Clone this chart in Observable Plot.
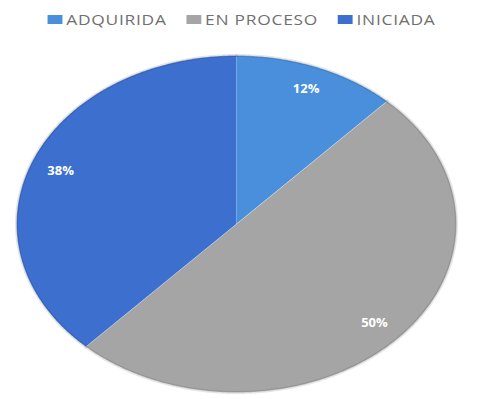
<!DOCTYPE html>
<html>
<head>
<meta charset="utf-8">
<script src="https://cdn.jsdelivr.net/npm/d3@7"></script>
<script src="https://cdn.jsdelivr.net/npm/@observablehq/plot@0.6"></script>
<style>
  html, body { margin: 0; padding: 0; background: #fff; }
  #legend { height: 38px; display: flex; justify-content: center; align-items: center; gap: 16px;
            font-family: "Open Sans", sans-serif; font-size: 14px; color: #707070; letter-spacing: 0.6px;
            padding-right: 11px; box-sizing: border-box; width: 494px;
            transform: scaleX(1.24); transform-origin: 241px 50%; }
  .item { display: flex; align-items: center; }
  .sw { width: 12px; height: 9px; margin-right: 3px; display: inline-block; }
  #chart svg { display: block; }
</style>
</head>
<body>
<div id="legend"></div>
<div id="chart"></div>
<script>
const categories = ["ADQUIRIDA", "EN PROCESO", "INICIADA"];
const values = [12, 50, 38];
const labels = ["12%", "50%", "38%"];
const colors = ["#4a8fdb", "#a5a5a5", "#3d6fcf"];

// legend
const leg = document.getElementById("legend");
categories.forEach((c, i) => {
  const it = document.createElement("div");
  it.className = "item";
  const sw = document.createElement("span");
  sw.className = "sw";
  sw.style.background = colors[i];
  it.appendChild(sw);
  const t = document.createElement("span");
  t.textContent = c;
  it.appendChild(t);
  leg.appendChild(it);
});

// slice geometry from values (start at top, clockwise)
const total = d3.sum(values);
const pts = [];
const rim = [];
const labelData = [];
let acc = 0;
categories.forEach((c, i) => {
  const s = acc / total, e = (acc + values[i]) / total;
  acc += values[i];
  pts.push({cat: c, x: 0, y: 0});
  const n = Math.max(2, Math.ceil((e - s) * 720));
  for (let k = 0; k <= n; k++) {
    const th = 2 * Math.PI * (s + (e - s) * k / n);
    pts.push({cat: c, x: Math.sin(th), y: Math.cos(th)});
    rim.push({cat: c, x: Math.sin(th), y: Math.cos(th)});
  }
  const m = 2 * Math.PI * (s + e) / 2;
  const r = 0.86;
  labelData.push({label: labels[i], x: r * Math.sin(m), y: r * Math.cos(m)});
});

const chart = Plot.plot({
  width: 494,
  height: 361,
  marginLeft: 16,
  marginRight: 38,
  marginTop: 17,
  marginBottom: 7,
  x: {domain: [-1, 1], axis: null},
  y: {domain: [-1, 1], axis: null},
  color: {domain: categories, range: colors},
  marks: [
    Plot.line(pts, {x: "x", y: "y", z: "cat", fill: "cat", stroke: "white", strokeWidth: 1, strokeOpacity: 0.35}),
    Plot.line(rim, {x: "x", y: "y", z: "cat", stroke: "black", strokeOpacity: 0.1, strokeWidth: 3}),
    Plot.text(labelData, {x: "x", y: "y", text: "label", fill: "white", fontWeight: "bold", fontSize: 13, fontFamily: "Open Sans, sans-serif"})
  ]
});
document.getElementById("chart").appendChild(chart);
</script>
</body>
</html>
